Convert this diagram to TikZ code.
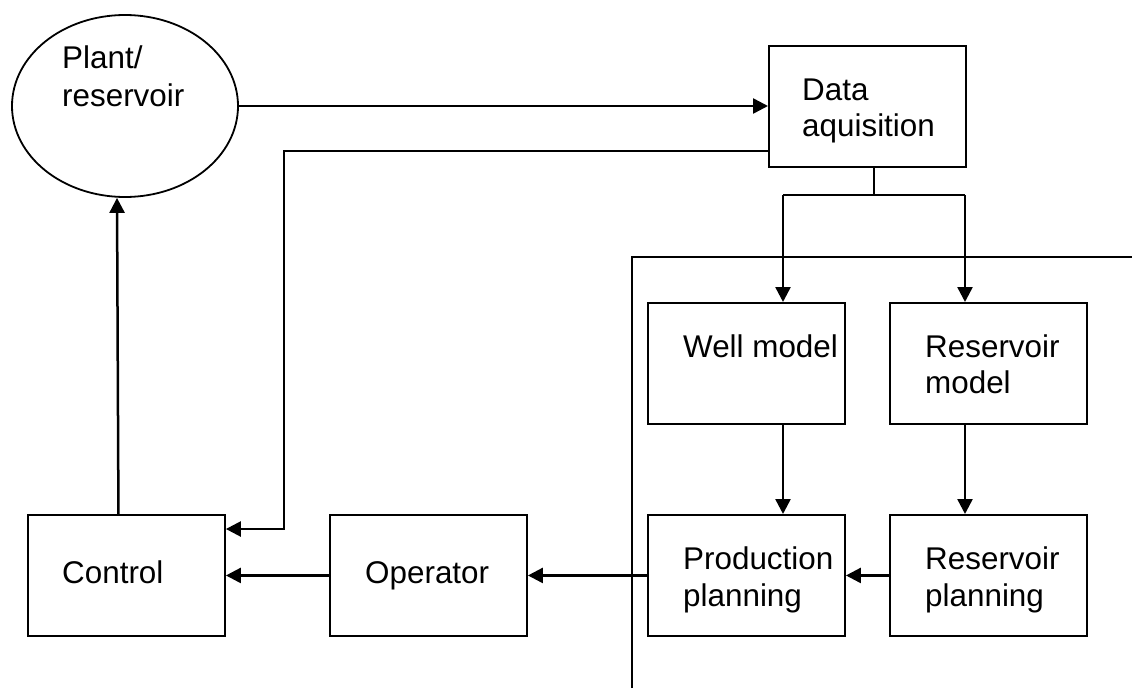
\documentclass[tikz,border=0pt]{standalone}
\usepackage{fontspec}
\setmainfont{Liberation Sans}
\usetikzlibrary{arrows.meta,shapes.geometric}

\tikzset{
  blockbox/.style={draw, line width=1.9pt, rectangle, minimum width=197pt, minimum height=121pt, anchor=north west, inner sep=0pt},
  plantshape/.style={draw, line width=1.8pt, ellipse, minimum width=226pt, minimum height=182pt, inner sep=0pt},
  lbl/.style={anchor=base west, inner sep=0pt, font=\fontsize{31.4}{37}\selectfont},
  conn/.style={line width=2.5pt},
  arr/.style={conn, -{Triangle[length=15pt,width=15pt]}},
}

\begin{document}
\begin{tikzpicture}[x=1pt,y=-1pt]
  \useasboundingbox (0,0) rectangle (1134,688);

  % process plant
  \node[plantshape] (pr) at (125,106) {};
  \node[lbl] (prt1) at (62,68) {Plant/};
  \node[lbl] (prt2) at (62,106) {reservoir};

  % data acquisition
  \node[blockbox] (da) at (768,45) {};
  \node[lbl] (dat1) at (802,100) {Data};
  \node[lbl] (dat2) at (802,136) {aquisition};

  % models
  \node[blockbox] (wm) at (647,302) {};
  \node[lbl] (wmt) at (683,357) {Well model};
  \node[blockbox] (rm) at (889,302) {};
  \node[lbl] (rmt1) at (925,357) {Reservoir};
  \node[lbl] (rmt2) at (925,393) {model};

  % planning
  \node[blockbox] (pp) at (647,514) {};
  \node[lbl] (ppt1) at (683,569) {Production};
  \node[lbl] (ppt2) at (683,606) {planning};
  \node[blockbox] (rp) at (889,514) {};
  \node[lbl] (rpt1) at (925,569) {Reservoir};
  \node[lbl] (rpt2) at (925,606) {planning};

  % operator and control
  \node[blockbox] (op) at (329,514) {};
  \node[lbl] (opt) at (365,583) {Operator};
  \node[blockbox] (ctl) at (27,514) {};
  \node[lbl] (ctlt) at (62,583) {Control};

  % boundary of the planning layer
  \coordinate (s1) at (632,688);
  \coordinate (s2) at (632,257);
  \coordinate (s3) at (1132,257);
  \draw[conn] (s1) -- (s2) -- (s3);

  % measurement path
  \draw[arr] (pr.east) -- (pr.east -| da.west);

  % split from data acquisition to the models
  \coordinate (jm) at (874,195);
  \coordinate (jl) at (783,195);
  \coordinate (jr) at (965,195);
  \draw[conn] (da.south -| jm) -- (jm);
  \draw[conn] (jl) -- (jr);
  \draw[arr] (jl) -- (jl |- wm.north);
  \draw[arr] (jr) -- (jr |- rm.north);

  % models to planning
  \draw[arr] (wm.south -| jl) -- (pp.north -| jl);
  \draw[arr] (rm.south -| jr) -- (rp.north -| jr);

  % planning chain to control
  \draw[arr] (rp.west) -- (pp.east);
  \draw[arr] (pp.west) -- (op.east);
  \draw[arr] (op.west) -- (ctl.east);

  % direct feedback from data acquisition to control
  \coordinate (fb) at (284,151);
  \draw[arr] (da.west |- fb) -- (fb) -- ([yshift=-15pt]ctl.north east -| fb) -- ([yshift=-15pt]ctl.north east);

  % control action on the plant
  \draw[arr] ([xshift=-8pt]ctl.north) -- ([xshift=-8pt]pr.south);
\end{tikzpicture}
\end{document}
